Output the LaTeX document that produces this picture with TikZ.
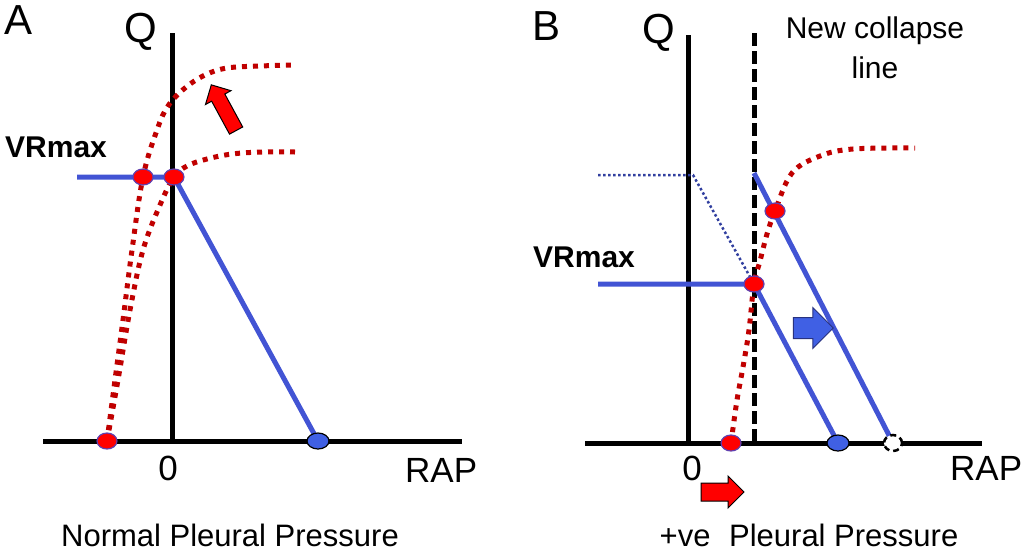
\documentclass[tikz,border=0pt]{standalone}
\usepackage{fontspec}
\setmainfont{Liberation Sans}
\usepackage{tikz}
\usetikzlibrary{shapes.geometric}
\usetikzlibrary{shapes.arrows}
\definecolor{curvered}{RGB}{192,0,0}
\definecolor{lineblue}{RGB}{66,84,212}
\definecolor{dotblue}{RGB}{64,96,228}
\definecolor{rimpurple}{RGB}{96,64,176}
\tikzstyle{axis} = [line width=5pt]
\tikzstyle{collapse} = [line width=5pt, dash pattern=on 13pt off 5pt]
\tikzstyle{vrline} = [line width=5pt, lineblue]
\tikzstyle{oldline} = [line width=2.5pt, lineblue!75!black, dash pattern=on 2.5pt off 2.5pt]
\tikzstyle{pressure} = [line width=5pt, curvered, dash pattern=on 5pt off 6pt]
\tikzstyle{redDot} = [ellipse, draw=rimpurple, line width=1.2pt, fill=red, minimum width=20pt, minimum height=16pt, inner sep=0]
\tikzstyle{blueDot} = [ellipse, draw=black, line width=1.2pt, fill=dotblue, minimum width=22pt, minimum height=16pt, inner sep=0]
\tikzstyle{openDot} = [ellipse, draw=black, line width=2.5pt, dash pattern=on 6pt off 4pt, fill=white, minimum width=18pt, minimum height=16pt, inner sep=0]
\tikzstyle{shiftArrow} = [single arrow, draw=black, line width=1pt, inner xsep=0, single arrow head indent=0pt]
\tikzstyle{panelText} = [inner sep=0, font=\fontsize{42}{46}\selectfont]
\tikzstyle{axisText} = [inner sep=0, font=\fontsize{35}{40}\selectfont]
\tikzstyle{vrText} = [inner sep=0, font=\bfseries\fontsize{30}{34}\selectfont]
\tikzstyle{noteText} = [inner sep=0, align=center, font=\fontsize{30}{40}\selectfont]
\tikzstyle{caseText} = [inner sep=0, font=\fontsize{31}{36}\selectfont]

\begin{document}
\begin{tikzpicture}[x=1pt, y=-1pt]
    \useasboundingbox (0,0) rectangle (1024,552);
    % panel A
    \coordinate (yTopA) at (172,33);
    \coordinate (originA) at (172,441);
    \coordinate (xLeftA) at (43,441);
    \coordinate (xRightA) at (462,441);
    \coordinate (vrA) at (77,177);
    \coordinate (pOpA) at (174,177);
    \coordinate (pLeftA) at (143,177);
    \coordinate (pIpA) at (107,441);
    \coordinate (pRapA) at (318,441);
    \draw [axis] (yTopA) -- (originA);
    \draw [axis] (xLeftA) -- (xRightA);
    \draw [vrline] (vrA) -- (pOpA) -- (pRapA);
    \draw [pressure] plot [smooth, tension=0.6] coordinates {(pIpA) (115,380) (123,320) (132,250) (pLeftA) (157,130) (168,106) (185,88) (205,75) (227,68) (260,66) (295,65)};
    \draw [pressure] plot [smooth, tension=0.6] coordinates {(pIpA) (118,380) (130,310) (143,250) (160,205) (pOpA) (187,166) (207,159) (232,154) (262,152) (295,152)};
    \node (leftA) at (pLeftA) [redDot] {};
    \node (opA) at (pOpA) [redDot] {};
    \node (ipA) at (pIpA) [redDot] {};
    \node (rapA) at (pRapA) [blueDot] {};
    \node (upA) at (225.5,111) [shiftArrow, fill=red, rotate=118.5, minimum height=52pt, minimum width=28pt, inner ysep=7pt, single arrow head extend=7pt] {};
    \node (nameA) at (4,34) [panelText, anchor=base west] {A};
    \node (qA) at (124,42) [panelText, anchor=base west] {Q};
    \node (vrTextA) at (5,157) [vrText, anchor=base west] {VRmax};
    \node (zeroA) at (168,480) [axisText, anchor=base] {0};
    \node (rapTextA) at (405,482) [axisText, anchor=base west] {RAP};
    \node (caseA) at (230,546) [caseText, anchor=base] {Normal Pleural Pressure};
    % panel B
    \coordinate (yTopB) at (688,35);
    \coordinate (originB) at (688,443);
    \coordinate (xLeftB) at (585,443);
    \coordinate (xRightB) at (982,443);
    \coordinate (cTop) at (754,33);
    \coordinate (cBottom) at (754,441);
    \coordinate (oldVr) at (598,175);
    \coordinate (oldKnee) at (693,175);
    \coordinate (vrB) at (598,284);
    \coordinate (newTop) at (754,173);
    \coordinate (pOpB) at (754,284);
    \coordinate (pNewB) at (775,211);
    \coordinate (pIpB) at (731,443);
    \coordinate (pRapB) at (838,443);
    \coordinate (pNewRapB) at (893,443);
    \draw [axis] (yTopB) -- (originB);
    \draw [axis] (xLeftB) -- (xRightB);
    \draw [collapse] (cTop) -- (cBottom);
    \draw [oldline] (oldVr) -- (oldKnee) -- (pOpB);
    \draw [vrline] (vrB) -- (pOpB) -- (pRapB);
    \draw [vrline] (newTop) -- (pNewRapB);
    \draw [pressure] plot [smooth, tension=0.6] coordinates {(pIpB) (737,400) (743,367) (749,330) (pOpB) (760,261) (767,234) (pNewB) (792,173) (820,156) (853,149) (915,148)};
    \node (opB) at (pOpB) [redDot] {};
    \node (newB) at (pNewB) [redDot] {};
    \node (ipB) at (pIpB) [redDot] {};
    \node (rapB) at (pRapB) [blueDot] {};
    \node (newRapB) at (pNewRapB) [openDot] {};
    \node (shiftB) at (808,328) [shiftArrow, fill=dotblue, draw=lineblue!60!black, minimum height=40pt, minimum width=40pt, inner ysep=10pt, single arrow head extend=10pt] {};
    \node (pushB) at (718,492) [shiftArrow, fill=red, minimum height=43pt, minimum width=31pt, inner ysep=8.5pt, single arrow head extend=7pt] {};
    \node (nameB) at (532,40) [panelText, anchor=base west] {B};
    \node (qB) at (642,43) [panelText, anchor=base west] {Q};
    \node (noteB) at (875,17) [noteText, anchor=north] {New collapse\\line};
    \node (vrTextB) at (533,267) [vrText, anchor=base west] {VRmax};
    \node (zeroB) at (692,480) [axisText, anchor=base] {0};
    \node (rapTextB) at (950,480) [axisText, anchor=base west] {RAP};
    \node (caseB) at (809,546) [caseText, anchor=base] {+ve\hspace{0.6em}Pleural Pressure};
\end{tikzpicture}
\end{document}
